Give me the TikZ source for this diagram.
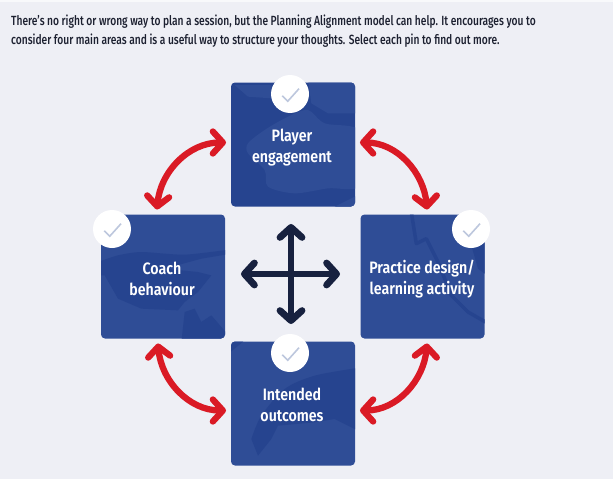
\documentclass[tikz,border=0pt]{standalone}
\usepackage{fontspec}
\setmainfont[FakeStretch=0.77]{Fira Sans Medium}
\newfontfamily\cardfont[FakeStretch=0.86]{Fira Sans SemiBold}
\usetikzlibrary{arrows.meta}
\definecolor{bgc}{HTML}{EEEFF5}
\definecolor{darkp}{HTML}{26448F}
\definecolor{lightp}{HTML}{2F4D96}
\definecolor{redc}{HTML}{DA1A25}
\definecolor{navyc}{HTML}{17213F}
\definecolor{chk}{HTML}{BDC7DD}
\definecolor{intro}{HTML}{1C2030}
\tikzset{
 x=1pt,y=-1pt,
 card/.style={rounded corners=4pt,minimum width=124pt,minimum height=124pt,inner sep=0pt,outer sep=0pt},
 cardtext/.style={text=white,align=center,font=\fontsize{16.5}{21}\selectfont\cardfont},
 introtext/.style={anchor=west,inner sep=0pt,text=intro,font=\fontsize{13.3}{16}\selectfont},
 pin/.style={circle,fill=white,minimum size=38pt,inner sep=0pt},
 rarrow/.style={draw=redc,line width=6.3pt,line cap=round,{Straight Barb[length=10pt,width=22pt,line width=6.3pt,round]}-{Straight Barb[length=10pt,width=22pt,line width=6.3pt,round]}},
 narrow/.style={draw=navyc,line width=6.8pt,line cap=round,{Straight Barb[length=10pt,width=22pt,line width=6.8pt,round]}-{Straight Barb[length=10pt,width=22pt,line width=6.8pt,round]}},
 tick/.style={draw=chk,line width=1.6pt}
}
\newcommand{\tickat}[1]{\draw[tick] ([shift={(-7.7,1.7)}]#1.center) -- ([shift={(-2.3,7.3)}]#1.center) -- ([shift={(9,-5.3)}]#1.center);}
\begin{document}
\begin{tikzpicture}
\useasboundingbox (0,0) rectangle (613,479);
\fill[bgc] (0,0) rectangle (613,479);
\fill[white!60!bgc] (0,0) rectangle (613,1.5);
\node[introtext] (l1) at (11,22) {There's no right or wrong way to plan a session, but the Planning Alignment model can help. It encourages you to};
\node[introtext] (l2) at (11,41) {consider four main areas and is a useful way to structure your thoughts. Select each pin to find out more.};
\node[card,fill=darkp] (pe) at (293,144.5) {};
\node[card,fill=lightp] (cb) at (163,276.5) {};
\node[card,fill=lightp] (pd) at (422.5,276.5) {};
\node[card,fill=lightp] (io) at (293,403.5) {};
% textures
\begin{scope}
\clip[rounded corners=4pt] (pe.south west) rectangle (pe.north east);
\begin{scope}[shift={(228,80)},scale=1/3]
\fill[lightp] plot[smooth cycle,tension=.5] coordinates {(60,190)(110,150)(180,110)(240,90)(290,130)(400,155)(400,315)(300,325)(200,340)(120,320)(110,270)(60,220)};
\fill[lightp] (240,0) -- (400,0) -- (400,100) -- (300,100) -- (250,70) -- cycle;
\fill[lightp] (20,15) -- (130,15) -- (130,55) -- (60,50) -- cycle;
\fill[lightp] (300,390) -- (400,340) -- (400,390) -- cycle;
\end{scope}
\end{scope}
\begin{scope}
\clip[rounded corners=4pt] (pd.south west) rectangle (pd.north east);
\begin{scope}[shift={(358,212)},scale=1/3]
\draw[darkp,line width=3.5pt,line join=round] (160,0) -- (175,95) -- (205,80) -- (240,150) -- (280,250) -- (330,300) -- (400,340);
\fill[darkp] (340,100) -- (400,70) -- (400,200) -- (360,170) -- cycle;
\end{scope}
\end{scope}
\begin{scope}
\clip[rounded corners=4pt] (cb.south west) rectangle (cb.north east);
\begin{scope}[shift={(98,212)},scale=1/3]
\fill[darkp] plot[smooth,tension=.4] coordinates {(0,150)(60,130)(130,120)(260,128)(400,112)} -- (400,125) -- (310,140) -- (200,170) -- (300,180) -- (340,190) -- (300,240) -- (260,270) -- (240,295) -- (130,290) -- (60,260) -- (20,190) -- (0,190) -- cycle;
\fill[darkp] (250,390) -- (260,300) -- (290,290) -- (310,330) -- (340,310) -- (400,380) -- (400,390) -- cycle;
\end{scope}
\end{scope}
\begin{scope}
\clip[rounded corners=4pt] (io.south west) rectangle (io.north east);
\begin{scope}[shift={(228,339)},scale=1/3]
\fill[darkp] (0,0) -- (55,0) -- (0,45) -- cycle;
\fill[darkp] plot[smooth,tension=.5] coordinates {(70,300)(100,230)(170,150)(260,110)(400,85)} -- (400,280) -- (320,240) -- (260,250) -- (150,260) -- (130,300) -- (90,350) -- cycle;
\end{scope}
\end{scope}
\node[cardtext] at (292,147.5) {Player\\engagement};
\node[cardtext] at (162,279) {Coach\\behaviour};
\node[cardtext] at (422,279) {Practice design/\\learning activity};
\node[cardtext] at (292,405) {Intended\\outcomes};
\node[pin] (p1) at (290,94) {}; \tickat{p1}
\node[pin] (p2) at (112,229) {}; \tickat{p2}
\node[pin] (p3) at (471,229) {}; \tickat{p3}
\node[pin] (p4) at (290,353) {}; \tickat{p4}
\draw[rarrow] ([shift={(5,-2)}]pe.east) to[out=0,in=95] ([shift={(4.5,-5)}]pd.north);
\draw[rarrow] ([shift={(-5,-2)}]pe.west) to[out=180,in=85] ([shift={(-6,-5)}]cb.north);
\draw[rarrow] ([shift={(-5,5)}]cb.south) to[out=-85,in=180] ([shift={(-5,7)}]io.west);
\draw[rarrow] ([shift={(4.5,5)}]pd.south) to[out=-95,in=0] ([shift={(5,7)}]io.east);
\coordinate (cn) at (291,224); \coordinate (cs) at (291,324);
\coordinate (cw) at (241,274); \coordinate (ce) at (340,274);
\draw[narrow] (cn) -- (cs);
\draw[narrow] (cw) -- (ce);
\end{tikzpicture}
\end{document}
